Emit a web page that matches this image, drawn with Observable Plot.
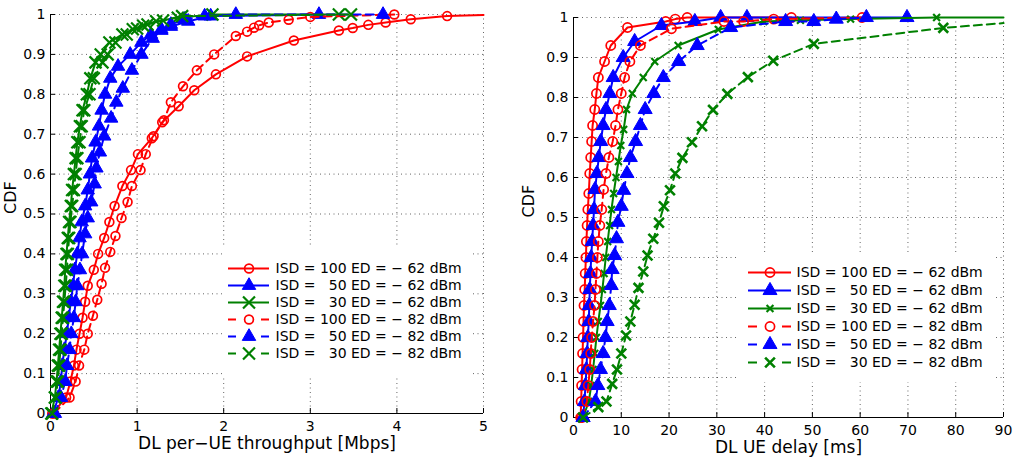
<!DOCTYPE html>
<html>
<head>
<meta charset="utf-8">
<script src="https://cdn.jsdelivr.net/npm/d3@7"></script>
<script src="https://cdn.jsdelivr.net/npm/@observablehq/plot@0.6"></script>
<style>
  body { margin: 0; background: #fff; }
  #chart { position: relative; width: 1016px; height: 462px; overflow: hidden; background: #fff; }
</style>
</head>
<body>
<div id="chart"></div>
<script>
// ---- Tick values ----
const cdfTicks = [0, 0.1, 0.2, 0.3, 0.4, 0.5, 0.6, 0.7, 0.8, 0.9, 1];
const thrTicks = [0, 1, 2, 3, 4, 5];
const delayTicks = [0, 10, 20, 30, 40, 50, 60, 70, 80, 90];

// ---- Legend entries (same order for both panels) ----
const legendLabels = [
  "ISD = 100 ED = − 62 dBm",
  "ISD =\u00a0\u00a0\u00a050 ED = − 62 dBm",
  "ISD =\u00a0\u00a0\u00a030 ED = − 62 dBm",
  "ISD = 100 ED = − 82 dBm",
  "ISD =\u00a0\u00a0\u00a050 ED = − 82 dBm",
  "ISD =\u00a0\u00a0\u00a030 ED = − 82 dBm"
];

// ---- DL per-UE throughput [Mbps] : [value, CDF] ----
const thrIsd100Ed62 = [[0.02,0],[0.18,0.04],[0.23,0.08],[0.27,0.12],[0.30,0.16],[0.335,0.20],[0.37,0.24],[0.40,0.28],[0.43,0.32],[0.50,0.36],[0.55,0.40],[0.62,0.44],[0.68,0.48],[0.74,0.52],[0.83,0.57],[0.93,0.61],[1.01,0.65],[1.17,0.69],[1.29,0.73],[1.48,0.77],[1.66,0.81],[1.91,0.85],[2.27,0.895],[2.81,0.935],[3.33,0.96],[3.49,0.966],[3.67,0.974],[3.87,0.98],[4.16,0.988],[4.58,0.996],[5.0,0.999]];
const thrIsd50Ed62 = [[0.03,0],[0.09,0.04],[0.12,0.08],[0.135,0.12],[0.16,0.16],[0.19,0.20],[0.21,0.24],[0.235,0.28],[0.26,0.32],[0.28,0.36],[0.31,0.40],[0.335,0.44],[0.36,0.48],[0.40,0.52],[0.43,0.56],[0.455,0.60],[0.48,0.64],[0.52,0.68],[0.56,0.72],[0.59,0.76],[0.63,0.80],[0.69,0.84],[0.78,0.87],[0.92,0.90],[1.05,0.93],[1.16,0.95],[1.28,0.963],[1.39,0.97],[1.59,0.983],[1.85,0.996],[3.10,1.0]];
const thrIsd30Ed62 = [[0.01,0],[0.05,0.04],[0.07,0.08],[0.085,0.12],[0.10,0.16],[0.115,0.20],[0.13,0.24],[0.145,0.28],[0.16,0.32],[0.17,0.36],[0.185,0.40],[0.20,0.44],[0.215,0.48],[0.235,0.52],[0.25,0.56],[0.27,0.60],[0.29,0.64],[0.31,0.68],[0.34,0.72],[0.37,0.76],[0.42,0.80],[0.46,0.84],[0.52,0.88],[0.58,0.90],[0.68,0.93],[0.83,0.95],[0.95,0.963],[1.07,0.972],[1.22,0.983],[1.47,0.992],[1.87,1.0],[3.33,1.0]];
const thrIsd100Ed82 = [[0.04,0],[0.22,0.04],[0.29,0.08],[0.33,0.12],[0.39,0.16],[0.43,0.20],[0.49,0.245],[0.54,0.285],[0.59,0.325],[0.63,0.365],[0.69,0.405],[0.75,0.445],[0.82,0.49],[0.89,0.53],[0.94,0.57],[1.04,0.61],[1.10,0.65],[1.19,0.695],[1.31,0.735],[1.39,0.78],[1.53,0.82],[1.69,0.86],[1.89,0.90],[2.14,0.946],[2.27,0.957],[2.35,0.967],[2.41,0.973],[2.52,0.98],[2.75,0.987],[3.00,0.994],[3.97,1.0]];
const thrIsd50Ed82 = [[0.05,0],[0.12,0.04],[0.17,0.08],[0.19,0.12],[0.22,0.16],[0.24,0.20],[0.27,0.24],[0.29,0.28],[0.31,0.32],[0.34,0.36],[0.365,0.40],[0.40,0.45],[0.43,0.49],[0.47,0.53],[0.51,0.575],[0.53,0.615],[0.57,0.655],[0.62,0.695],[0.70,0.74],[0.76,0.78],[0.835,0.815],[0.94,0.86],[1.05,0.90],[1.18,0.94],[1.28,0.96],[1.39,0.975],[1.55,0.988],[1.78,0.996],[2.14,1.0],[3.84,1.0]];
const thrIsd30Ed82 = [[0.02,0],[0.06,0.04],[0.085,0.08],[0.10,0.12],[0.115,0.16],[0.13,0.20],[0.145,0.24],[0.16,0.28],[0.175,0.32],[0.19,0.36],[0.20,0.40],[0.215,0.44],[0.23,0.48],[0.25,0.52],[0.27,0.56],[0.29,0.60],[0.31,0.64],[0.335,0.68],[0.36,0.72],[0.39,0.76],[0.45,0.80],[0.50,0.84],[0.60,0.88],[0.66,0.90],[0.75,0.93],[0.88,0.95],[1.00,0.965],[1.12,0.975],[1.30,0.985],[1.52,0.996],[3.47,1.0]];

// ---- DL UE delay [ms] : [value, CDF] ----
const delIsd100Ed62 = [[1.5,0],[1.6,0.04],[1.7,0.08],[1.8,0.12],[1.9,0.16],[2.0,0.20],[2.1,0.24],[2.2,0.28],[2.35,0.32],[2.45,0.36],[2.6,0.40],[2.7,0.44],[2.85,0.48],[3.0,0.52],[3.2,0.56],[3.4,0.61],[3.6,0.65],[3.8,0.69],[4.0,0.73],[4.45,0.77],[4.8,0.81],[5.2,0.85],[6.5,0.89],[7.8,0.93],[11.3,0.975],[19.3,0.99],[21.3,0.996],[23.8,1.0],[45.6,1.0]];
const delIsd50Ed62 = [[2.0,0],[2.3,0.04],[2.5,0.08],[2.7,0.12],[2.85,0.16],[3.0,0.20],[3.2,0.24],[3.3,0.28],[3.4,0.32],[3.55,0.36],[3.7,0.40],[3.9,0.44],[4.1,0.48],[4.3,0.52],[4.5,0.57],[4.9,0.61],[5.3,0.65],[5.7,0.69],[6.2,0.73],[6.8,0.77],[7.6,0.81],[8.3,0.85],[10.4,0.90],[12.8,0.94],[18.4,0.98],[25.4,0.99],[30.8,1.0],[36.3,1.0],[69.8,1.0]];
const delIsd30Ed62 = [[2.0,0],[3.2,0.04],[3.7,0.08],[4.1,0.12],[4.45,0.16],[4.8,0.20],[5.2,0.24],[5.65,0.28],[6.05,0.32],[6.4,0.36],[6.75,0.40],[7.15,0.44],[7.55,0.48],[7.95,0.52],[8.4,0.56],[8.9,0.60],[9.4,0.64],[9.9,0.68],[10.5,0.72],[11.1,0.77],[12.3,0.81],[14.6,0.85],[17.0,0.89],[21.9,0.93],[30.3,0.97],[39.8,0.99],[47.5,0.993],[58.0,0.996],[76.0,1.0],[90,1.0]];
const delIsd100Ed82 = [[1.8,0],[2.8,0.04],[3.1,0.08],[3.4,0.12],[3.6,0.16],[3.8,0.20],[4.1,0.24],[4.4,0.28],[4.6,0.32],[4.8,0.36],[5.0,0.40],[5.2,0.44],[5.5,0.48],[5.9,0.52],[6.3,0.57],[6.8,0.61],[7.4,0.65],[8.2,0.69],[8.8,0.73],[9.3,0.77],[10.0,0.81],[10.7,0.85],[11.8,0.89],[14.0,0.93],[20.5,0.972],[31.5,0.99],[35.6,0.99],[41.9,0.996],[60.4,1.0]];
const delIsd50Ed82 = [[2.0,0],[4.6,0.04],[5.1,0.08],[5.65,0.12],[6.2,0.16],[6.7,0.20],[7.05,0.24],[7.5,0.28],[7.9,0.33],[8.1,0.37],[8.6,0.405],[9.0,0.447],[9.3,0.488],[10.0,0.528],[10.5,0.568],[11.2,0.61],[11.9,0.65],[13.0,0.69],[14.0,0.73],[15.0,0.77],[16.8,0.81],[18.8,0.85],[22.0,0.89],[25.9,0.93],[32.9,0.975],[44.4,0.99],[50.3,0.99],[55.0,0.996],[61.3,1.0]];
const delIsd30Ed82 = [[2.0,0],[5.2,0.026],[6.9,0.04],[8.1,0.084],[9.1,0.12],[10.0,0.16],[11.0,0.205],[11.9,0.24],[12.8,0.282],[13.6,0.324],[14.6,0.365],[15.5,0.405],[16.7,0.447],[17.9,0.487],[18.9,0.528],[20.2,0.568],[21.3,0.61],[22.8,0.649],[24.8,0.688],[26.9,0.728],[29.2,0.769],[32.2,0.809],[36.5,0.851],[41.8,0.892],[50.3,0.934],[77.4,0.974],[90,0.986]];

// ---- Styling of the six curves (legend order) ----
const RED = "#ff0000", BLUE = "#0000ff", GREEN = "#008000";
const curveStyles = [
  {color: RED,   symbol: "circle",   dashed: false},
  {color: BLUE,  symbol: "triangle", dashed: false},
  {color: GREEN, symbol: "times",    dashed: false},
  {color: RED,   symbol: "circle",   dashed: true},
  {color: BLUE,  symbol: "triangle", dashed: true},
  {color: GREEN, symbol: "times",    dashed: true}
];
const FONT = "'DejaVu Sans', sans-serif";

function markerOptions(style, sizes, dashed) {
  if (style.symbol === "triangle") {
    return {symbol: "triangle", r: sizes.triangle, fill: style.color, stroke: style.color, strokeWidth: 1};
  }
  if (style.symbol === "circle") {
    return {symbol: "circle", r: sizes.circle, fill: "none", stroke: style.color, strokeWidth: 1.7};
  }
  return {symbol: "times", r: dashed ? sizes.timesDashed : sizes.times, fill: "none",
          stroke: style.color, strokeWidth: dashed ? sizes.timesDashedWidth : sizes.timesWidth};
}

function cdfPanel(p) {
  const W = 508, H = 462;
  const iw = W - p.ml - p.mr, ih = H - p.mt - p.mb;
  const xmax = p.xDomain[1];
  const gridStyle = {stroke: "#333", strokeOpacity: 0.75, strokeWidth: 1, strokeDasharray: "1,3.5"};
  const marks = [
    Plot.gridX(p.xTicks, gridStyle),
    Plot.gridY(cdfTicks, gridStyle),
    Plot.ruleX([p.xDomain[0]], {stroke: "#000", strokeWidth: 1}),
    Plot.ruleY([0], {stroke: "#000", strokeWidth: 1}),
    Plot.tickX(p.xTicks, {x: d => d, insetTop: ih - 5, stroke: "#000"}),
    Plot.tickY(cdfTicks, {y: d => d, insetRight: iw - 5, stroke: "#000"}),
    Plot.axisX(p.xTicks, {tickSize: 0, tickPadding: 8, tickFormat: d => String(d), label: null, fontSize: 14, fill: "#000"}),
    Plot.axisY(cdfTicks, {tickSize: 0, tickPadding: 5, tickFormat: d => String(d), label: null, fontSize: 14, fill: "#000"})
  ];
  p.series.forEach((data, i) => {
    const st = curveStyles[i];
    marks.push(Plot.line(data, {
      x: d => d[0], y: d => d[1], stroke: st.color, strokeWidth: 2,
      strokeDasharray: st.dashed ? "8,5" : null
    }));
    marks.push(Plot.dot(data.filter(d => d[0] < xmax), {
      x: d => d[0], y: d => d[1], ...markerOptions(st, p.sizes, st.dashed)
    }));
  });
  marks.push(Plot.text([p.xLabel], {frameAnchor: "bottom", dy: p.xLabelDy, fontSize: 17, fill: "#000"}));
  marks.push(Plot.text(["CDF"], {frameAnchor: "left", dx: p.cdfDx, rotate: -90, fontSize: 16, fill: "#000"}));

  return Plot.plot({
    width: W, height: H,
    marginLeft: p.ml, marginRight: p.mr, marginTop: p.mt, marginBottom: p.mb,
    x: {domain: p.xDomain, label: null},
    y: {domain: [0, 1], label: null},
    style: {position: "absolute", left: p.left + "px", top: "0px", fontFamily: FONT,
            fontSize: "14px", color: "#000", background: "transparent", overflow: "visible"},
    marks
  });
}

function legendPanel(lg, sizes) {
  const rows = legendLabels.map((label, i) => ({i, label}));
  const h = lg.rowH * rows.length;
  const marks = [];
  rows.forEach(row => {
    const st = curveStyles[row.i];
    marks.push(Plot.ruleY([row], {
      y: "i", x1: lg.line[0], x2: lg.line[1], stroke: st.color, strokeWidth: 2,
      strokeDasharray: st.dashed ? lg.dash : null
    }));
    marks.push(Plot.dot([row], {
      x: (lg.line[0] + lg.line[1]) / 2, y: "i", ...markerOptions(st, sizes, st.dashed)
    }));
  });
  marks.push(Plot.text(rows, {x: lg.textX, y: "i", text: "label", textAnchor: "start", fontSize: 14, fill: "#000"}));
  return Plot.plot({
    width: lg.width, height: h, margin: 0,
    x: {domain: [0, lg.width], range: [0, lg.width], axis: null},
    y: {type: "point", domain: rows.map(r => r.i), range: [lg.rowH / 2, h - lg.rowH / 2], axis: null},
    style: {position: "absolute", left: lg.left + "px", top: lg.top + "px", fontFamily: FONT,
            background: "#fff", overflow: "visible"},
    marks
  });
}

const chart = document.getElementById("chart");

const thrSizes = {circle: 4.4, triangle: 5, times: 5.5, timesDashed: 5.5, timesWidth: 2.2, timesDashedWidth: 2.2};
const delaySizes = {circle: 4.6, triangle: 5.2, times: 3.2, timesDashed: 4.5, timesWidth: 2.2, timesDashedWidth: 2.6};

chart.append(cdfPanel({
  left: 0, ml: 50, mr: 25, mt: 14, mb: 49,
  xDomain: [0, 5], xTicks: thrTicks,
  xLabel: "DL per−UE throughput [Mbps]", xLabelDy: 35, cdfDx: -40,
  series: [thrIsd100Ed62, thrIsd50Ed62, thrIsd30Ed62, thrIsd100Ed82, thrIsd50Ed82, thrIsd30Ed82],
  sizes: thrSizes
}));
chart.append(cdfPanel({
  left: 508, ml: 65, mr: 13, mt: 17, mb: 45,
  xDomain: [0, 90], xTicks: delayTicks,
  xLabel: "DL UE delay [ms]", xLabelDy: 35, cdfDx: -45,
  series: [delIsd100Ed62, delIsd50Ed62, delIsd30Ed62, delIsd100Ed82, delIsd50Ed82, delIsd30Ed82],
  sizes: delaySizes
}));

chart.append(legendPanel({left: 222, top: 247.4, width: 250, rowH: 21.2, line: [6, 47], textX: 53, dash: "8,25"}, thrSizes));
chart.append(legendPanel({left: 738, top: 252.2, width: 256, rowH: 21.6, line: [10, 53], textX: 58, dash: "9,25"}, delaySizes));
</script>
</body>
</html>
